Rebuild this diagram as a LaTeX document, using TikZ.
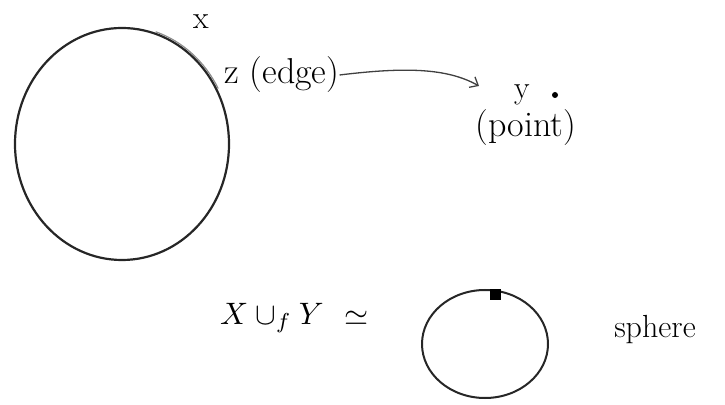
\documentclass[tikz,border=0pt]{standalone}
\usetikzlibrary{shapes.geometric,arrows.meta}
\begin{document}
\begin{tikzpicture}[x=1pt,y=1pt,
  sketch/.style={draw=black!85,line width=2.2pt},
  lab/.style={inner sep=0pt,font=\fontsize{32}{36}\selectfont},
  biglab/.style={inner sep=0pt,font=\fontsize{36}{40}\selectfont},
  mathlab/.style={inner sep=0pt,scale=3.1}]
\useasboundingbox (0,0) rectangle (725,404);
% big space X
\node[sketch,ellipse,minimum width=214,minimum height=232,inner sep=0pt] (X) at (122,260) {};
% highlighted edge Z
\draw[black!45,line width=1.2pt] (122,260) ++(72:109 and 118) arc[start angle=72,end angle=28,x radius=109,y radius=118];
\node[lab] (xlab) at (201,382) {x};
\node[biglab,anchor=west] (zlab) at (224,329) {z (edge)};
% point y
\node[lab] (ylab) at (522,309) {y};
\node[circle,fill=black,minimum size=6,inner sep=0pt] (ydot) at (555,309) {};
\node[biglab] (ptlab) at (526,276) {(point)};
\coordinate (tip) at (479,318);
\draw[black!75,line width=1.3pt,-{Straight Barb[length=7pt,width=12pt]}]
  (zlab.east) .. controls (405,337) and (447,336) .. (tip);
% bottom: glued space
\node[mathlab] (glue) at (272,86) {$X\cup_f Y$};
\node[mathlab] (simeq) at (357,86) {$\simeq$};
\node[draw=black!85,line width=2pt,ellipse,minimum width=126,minimum height=108,inner sep=0pt] (S) at (485,60) {};
\node[fill=black,minimum size=11,inner sep=0pt] (sdot) at (495,109) {};
\node[lab] (sph) at (655,74) {sphere};
\end{tikzpicture}
\end{document}
